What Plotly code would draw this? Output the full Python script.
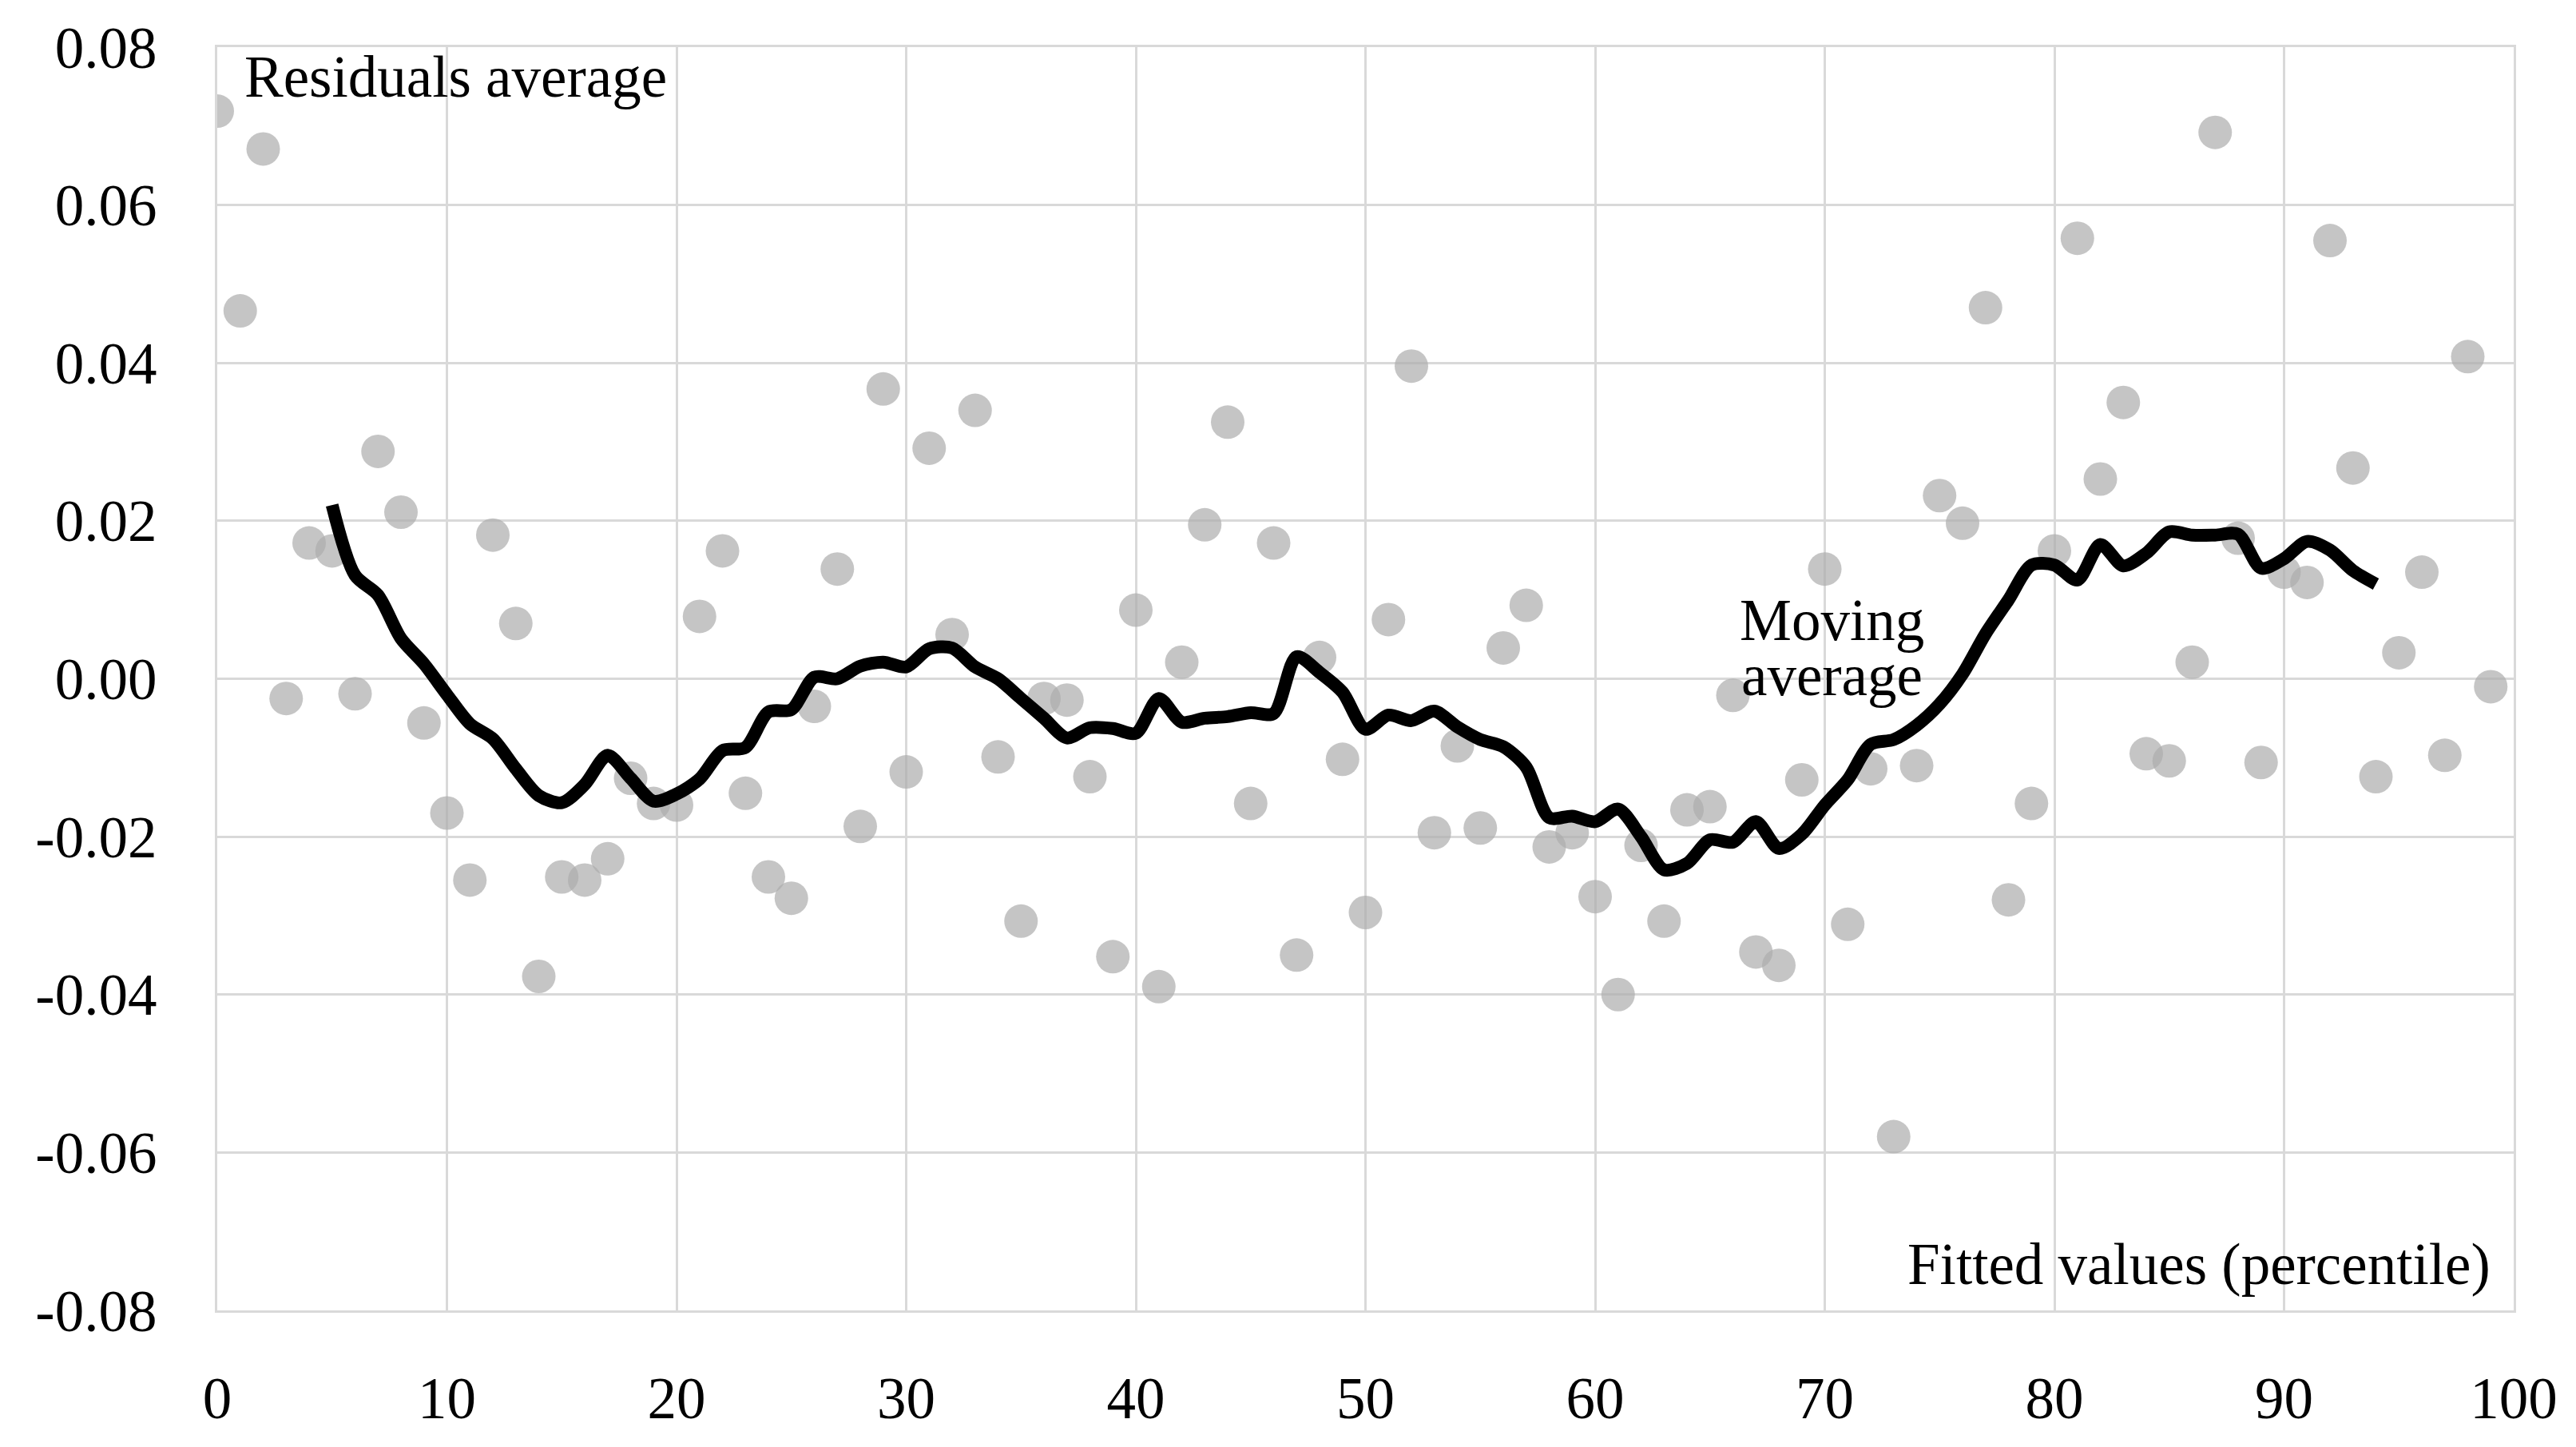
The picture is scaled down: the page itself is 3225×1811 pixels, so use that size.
import plotly.graph_objects as go

# ---- data ----
percentile = list(range(0, 100))
residuals = [
    0.0719, 0.0466, 0.0671, -0.0025, 0.0172, 0.0162, -0.0019, 0.0288, 0.0211, -0.0056,
    -0.0170, -0.0255, 0.0182, 0.0070, -0.0377, -0.0251, -0.0255, -0.0228, -0.0126, -0.0158,
    -0.0160, 0.0079, 0.0162, -0.0145, -0.0251, -0.0278, -0.0035, 0.0139, -0.0187, 0.0367,
    -0.0118, 0.0292, 0.0056, 0.0340, -0.0099, -0.0307, -0.0025, -0.0027, -0.0124, -0.0352,
    0.0087, -0.0390, 0.0021, 0.0195, 0.0325, -0.0158, 0.0172, -0.0350, 0.0027, -0.0102,
    -0.0296, 0.0075, 0.0396, -0.0195, -0.0085, -0.0189, 0.0039, 0.0093, -0.0213, -0.0195,
    -0.0276, -0.0400, -0.0211, -0.0307, -0.0166, -0.0162, -0.0021, -0.0346, -0.0363, -0.0128,
    0.0139, -0.0311, -0.0114, -0.0580, -0.0110, 0.0232, 0.0197, 0.0470, -0.0280, -0.0158,
    0.0162, 0.0558, 0.0253, 0.0350, -0.0095, -0.0104, 0.0021, 0.0692, 0.0178, -0.0106,
    0.0135, 0.0122, 0.0555, 0.0267, -0.0124, 0.0033, 0.0135, -0.0097, 0.0408, -0.0010,
]

ma_x = list(range(5, 95))
moving_average = [
    0.0220, 0.0131, 0.0106, 0.0051, 0.0019, -0.0020, -0.0057, -0.0076, -0.0114, -0.0148,
    -0.0157, -0.0134, -0.0097, -0.0126, -0.0155, -0.0146, -0.0127, -0.0091, -0.0087, -0.0042,
    -0.0039, 0.0002, 0.0000, 0.0016, 0.0021, 0.0015, 0.0038, 0.0039, 0.0015, 0.0000,
    -0.0025, -0.0050, -0.0075, -0.0062, -0.0063, -0.0069, -0.0025, -0.0055, -0.0050, -0.0048,
    -0.0043, -0.0044, 0.0028, 0.0008, -0.0017, -0.0064, -0.0046, -0.0053, -0.0041, -0.0061,
    -0.0077, -0.0086, -0.0112, -0.0176, -0.0174, -0.0181, -0.0165, -0.0200, -0.0242, -0.0234,
    -0.0204, -0.0207, -0.0181, -0.0215, -0.0197, -0.0160, -0.0128, -0.0083, -0.0077, -0.0059,
    -0.0032, 0.0006, 0.0057, 0.0100, 0.0144, 0.0144, 0.0125, 0.0170, 0.0143, 0.0159,
    0.0186, 0.0182, 0.0182, 0.0183, 0.0140, 0.0152, 0.0174, 0.0163, 0.0137, 0.0120,
]

x_ticks = [0, 10, 20, 30, 40, 50, 60, 70, 80, 90, 100]
x_tick_labels = ["0", "10", "20", "30", "40", "50", "60", "70", "80", "90", "100"]
y_ticks = [-0.08, -0.06, -0.04, -0.02, 0.0, 0.02, 0.04, 0.06, 0.08]
y_tick_labels = ["-0.08", "-0.06", "-0.04", "-0.02", "0.00", "0.02", "0.04", "0.06", "0.08"]

FONT = "Liberation Serif"
FS = 73
GRID = "#d9d9d9"

fig = go.Figure()
fig.add_trace(go.Scatter(
    x=percentile, y=residuals, mode="markers",
    marker=dict(size=42, color="rgba(172,172,172,0.7)", line=dict(width=0)),
    showlegend=False, hoverinfo="skip",
))
fig.add_trace(go.Scatter(
    x=ma_x, y=moving_average, mode="lines",
    line=dict(color="black", width=16, shape="spline", smoothing=0.8),
    showlegend=False, hoverinfo="skip",
))

fig.add_annotation(x=1.1, y=0.0762, xref="x", yref="y", text="Residuals average",
                   showarrow=False, xanchor="left", yanchor="middle",
                   font=dict(family=FONT, size=FS, color="black"))
fig.add_annotation(x=70.3, y=0.0074, xref="x", yref="y", text="Moving",
                   showarrow=False, xanchor="center", yanchor="middle",
                   font=dict(family=FONT, size=FS, color="black"))
fig.add_annotation(x=70.3, y=0.0004, xref="x", yref="y", text="average",
                   showarrow=False, xanchor="center", yanchor="middle",
                   font=dict(family=FONT, size=FS, color="black"))
fig.add_annotation(x=99.05, y=-0.0742, xref="x", yref="y", text="Fitted values (percentile)",
                   showarrow=False, xanchor="right", yanchor="middle",
                   font=dict(family=FONT, size=FS, color="black"))

fig.update_xaxes(
    range=[0, 100], tickvals=x_ticks, ticktext=x_tick_labels,
    showgrid=True, gridcolor=GRID, gridwidth=3,
    showline=True, linecolor=GRID, linewidth=3, mirror=True,
    zeroline=False, ticks="outside", ticklen=44, tickcolor="rgba(0,0,0,0)",
    tickfont=dict(family=FONT, size=FS, color="black"),
)
fig.update_yaxes(
    range=[-0.08, 0.08], tickvals=y_ticks, ticktext=y_tick_labels,
    showgrid=True, gridcolor=GRID, gridwidth=3,
    showline=True, linecolor=GRID, linewidth=3, mirror=True,
    zeroline=False, ticks="outside", ticklen=58, tickcolor="rgba(0,0,0,0)",
    tickfont=dict(family=FONT, size=FS, color="black"),
)

fig.update_layout(
    width=3209, height=1795,
    margin=dict(l=264, r=70, t=47, b=127, pad=0),
    paper_bgcolor="white", plot_bgcolor="white",
    font=dict(family=FONT, color="black"),
)

fig.write_html("out.html")
